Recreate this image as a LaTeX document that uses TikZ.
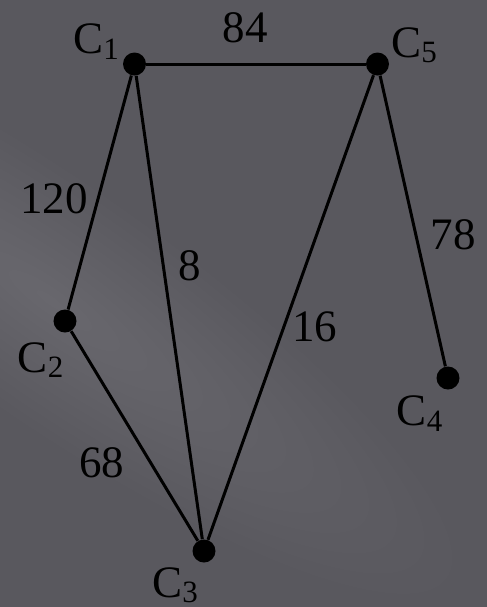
\documentclass[tikz,border=0pt]{standalone}
\usepackage{fontspec}
\setmainfont{Liberation Serif}
\usepackage{xcolor}
\usepackage{tikz}
\definecolor{slate}{RGB}{89,88,94}
\definecolor{slatelight}{RGB}{104,103,109}
\usetikzlibrary{calc}
\newcommand{\cname}[1]{C\raisebox{-2.6pt}{\fontsize{15.5}{15.5}\selectfont #1}}

\begin{document}
\begin{tikzpicture}[
    x=0.5pt, y=-0.5pt,
    every node/.style={font=\fontsize{22.5}{27}\selectfont, text=black, inner sep=0pt},
    dot/.style={circle, fill=black, minimum size=11.5pt},
    link/.style={line width=1.5pt, black},
]
% --- Background with its soft light streak ---
\fill[slate] (0,0) rectangle (487,607);
\begin{scope}
  \clip (0,0) rectangle (487,607);
  \begin{scope}[transform canvas={shift={(50,300)}, rotate=-35}]
    \shade[inner color=slatelight, outer color=slate] (0,0) ellipse (250pt and 60pt);
  \end{scope}
\end{scope}
\useasboundingbox (0,0) rectangle (487,607);

% --- Cities ---
\node[dot] (c1) at (134.5,64)  {};
\node[dot] (c2) at (65,321)    {};
\node[dot] (c3) at (204,551)   {};
\node[dot] (c4) at (448,378)   {};
\node[dot] (c5) at (377.5,64)  {};

% --- Roads ---
\draw[link] (c1) -- (c5);
\draw[link] (c1) -- (c2);
\draw[link] (c1) -- (c3);
\draw[link] (c2) -- (c3);
\draw[link] (c5) -- (c3);
\draw[link] (c5) -- (c4);

% --- City names ---
\node (l1) at ($(c1)+(-38.5,-22.5)$) {\cname{1}};
\node (l2) at ($(c2)+(-24.5,39)$)    {\cname{2}};
\node (l3) at ($(c3)+(-29,34)$)      {\cname{3}};
\node (l4) at ($(c4)+(-28.5,35.5)$)  {\cname{4}};
\node (l5) at ($(c5)+(36.5,-18.5)$)  {\cname{5}};

% --- Road lengths ---
\node (w15) at ($(c1)!0.5!(c5)+(-11,-36.5)$)  {84};
\node (w12) at ($(c1)!0.5!(c2)+(-45.75,6)$)   {120};
\node (w13) at ($(c1)!0.5!(c3)+(20.25,-41.5)$) {8};
\node (w53) at ($(c5)!0.5!(c3)+(24.25,19.5)$) {16};
\node (w54) at ($(c5)!0.5!(c4)+(40.25,14)$)   {78};
\node (w23) at ($(c2)!0.5!(c3)+(-33,27)$)     {68};
\end{tikzpicture}
\end{document}
